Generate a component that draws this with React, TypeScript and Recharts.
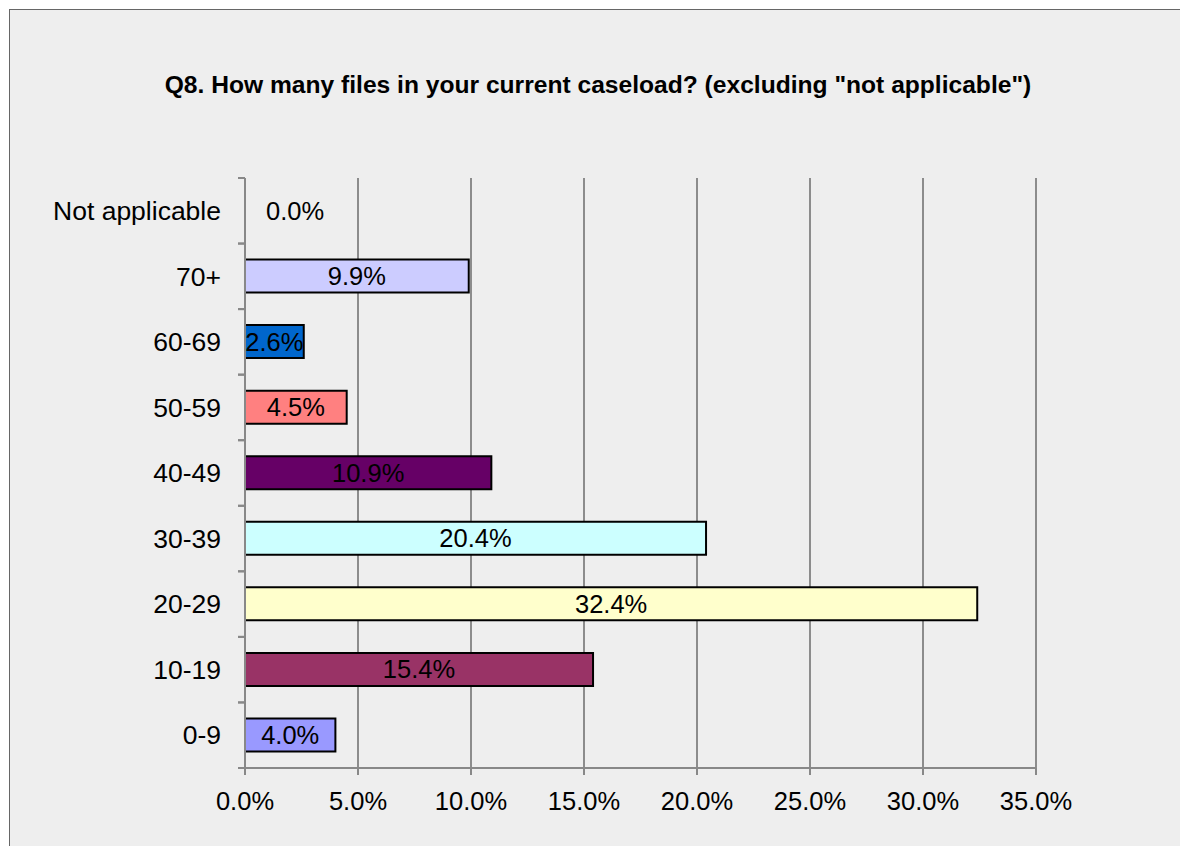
import React from 'react';
import { BarChart, Bar, XAxis, YAxis, CartesianGrid, LabelList, Cell, ReferenceDot } from 'recharts';

const categories = ['Not applicable', '70+', '60-69', '50-59', '40-49', '30-39', '20-29', '10-19', '0-9'];
const shares = [0.0, 0.099, 0.026, 0.045, 0.109, 0.204, 0.324, 0.154, 0.04];
const barColors = ['#FFFFFF', '#CCCCFF', '#0066CC', '#FF8080', '#660066', '#CCFFFF', '#FFFFCC', '#993366', '#9999FF'];
const xTicks = [0, 0.05, 0.1, 0.15, 0.2, 0.25, 0.3, 0.35];

const data = categories.map((name, i) => ({ name, value: shares[i] }));

const FONT = '"Liberation Sans", Arial, sans-serif';
const pct = (v: number) => `${(v * 100).toFixed(1)}%`;

const CategoryTick = (props: any) => {
  const { x, y, payload } = props;
  const axisX = x + 24;
  const half = payload.offset ?? 0;
  return (
    <g>
      <line x1={axisX - 7} x2={axisX} y1={y - half} y2={y - half} stroke="#888" strokeWidth={2} />
      <line x1={axisX - 7} x2={axisX} y1={y + half} y2={y + half} stroke="#888" strokeWidth={2} />
      <text x={x} y={y} dy="0.35em" textAnchor="end" fontFamily={FONT} fontSize={26.5} fill="#000">
        {payload.value}
      </text>
    </g>
  );
};

const BarValue = (props: any) => {
  const { x, y, width, height, value } = props;
  if (!value) return null;
  return (
    <text x={x + width / 2} y={y + height / 2} dy="0.35em" textAnchor="middle" fontFamily={FONT} fontSize={25.5} fill="#000">
      {pct(value)}
    </text>
  );
};

// zero-length bars get their label just right of the axis
const ZeroLabel = (props: any) => {
  const { viewBox } = props;
  return (
    <text x={viewBox.x + 21} y={viewBox.y} dy="0.35em" textAnchor="start" fontFamily={FONT} fontSize={25.5} fill="#000">
      {pct(0)}
    </text>
  );
};

export default function App() {
  return (
    <div style={{ position: 'absolute', left: 0, top: 0, width: 1180, height: 846, background: '#fff', overflow: 'hidden' }}>
      <div
        style={{
          position: 'absolute',
          left: 9,
          top: 9,
          width: 1200,
          height: 900,
          background: '#EEEEEE',
          borderLeft: '1px solid #666',
          borderTop: '1px solid #666',
        }}
      />
      <div
        style={{
          position: 'absolute',
          left: 0,
          top: 71,
          width: 1196,
          textAlign: 'center',
          fontFamily: FONT,
          fontWeight: 'bold',
          fontSize: 24.6,
          color: '#000',
        }}
      >
        Q8. How many files in your current caseload? (excluding "not applicable")
      </div>
      <div style={{ position: 'absolute', left: 0, top: 0 }}>
        <BarChart
          width={1180}
          height={846}
          data={data}
          layout="vertical"
          margin={{ top: 178, right: 144, bottom: 28, left: 0 }}
          barSize={33}
        >
          <CartesianGrid horizontal={false} stroke="#8c8c8c" strokeWidth={2} />
          <XAxis
            type="number"
            domain={[0, 0.35]}
            ticks={xTicks}
            tickFormatter={pct}
            height={50}
            axisLine={{ stroke: '#888', strokeWidth: 2 }}
            tickLine={{ stroke: '#888', strokeWidth: 2 }}
            tickSize={7}
            tickMargin={17}
            tick={{ fontFamily: FONT, fontSize: 25.5, fill: '#000' }}
          />
          <YAxis
            type="category"
            dataKey="name"
            width={245}
            axisLine={{ stroke: '#888', strokeWidth: 2 }}
            tickLine={false}
            tickSize={0}
            tickMargin={24}
            tick={<CategoryTick />}
            interval={0}
          />
          <Bar dataKey="value" stroke="#000" strokeWidth={2} isAnimationActive={false}>
            {data.map((d, i) => (
              <Cell key={d.name} fill={barColors[i]} />
            ))}
            <LabelList dataKey="value" content={<BarValue />} />
          </Bar>
          {data
            .filter((d) => d.value === 0)
            .map((d) => (
              <ReferenceDot key={d.name} x={d.value} y={d.name} r={0} stroke="none" label={<ZeroLabel />} />
            ))}
        </BarChart>
      </div>
    </div>
  );
}
